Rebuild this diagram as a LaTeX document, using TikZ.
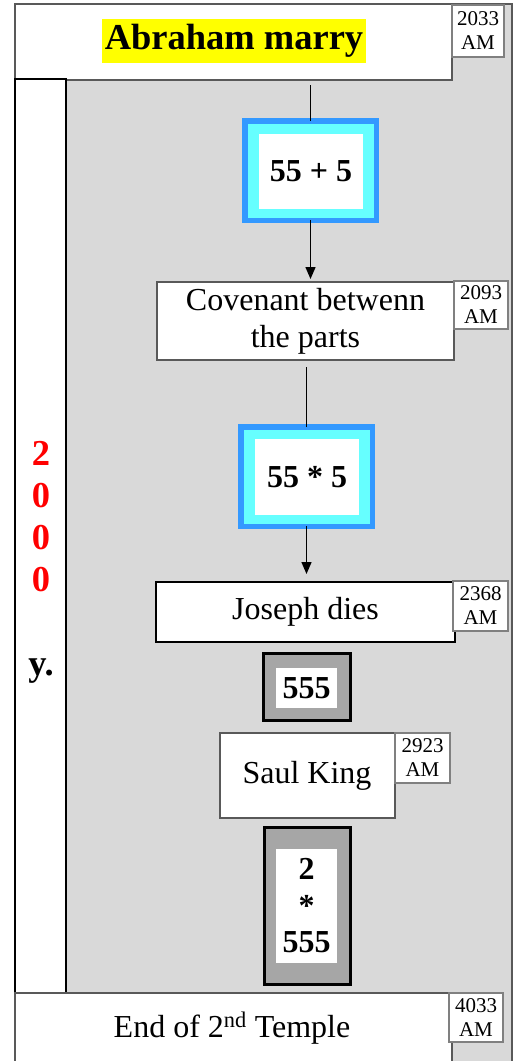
\documentclass[tikz,border=0pt]{standalone}
\usepackage{fontspec}
\setmainfont{Liberation Serif}
\usetikzlibrary{arrows.meta}
\definecolor{bggray}{HTML}{D9D9D9}
\definecolor{framegray}{HTML}{595959}
\definecolor{dategray}{HTML}{808080}
\definecolor{boxblue}{HTML}{3399FF}
\definecolor{boxcyan}{HTML}{66FFFF}
\definecolor{midgray}{HTML}{A6A6A6}
\definecolor{hiyellow}{HTML}{FFFF00}
\begin{document}
\begin{tikzpicture}[x=1pt,y=-1pt,
  every node/.style={inner sep=0pt,outer sep=0pt},
  regtext/.style={font=\fontsize{32}{37}\selectfont},
  boldtext/.style={font=\bfseries\fontsize{32}{36.5}\selectfont},
  bigbold/.style={font=\bfseries\fontsize{36.5}{42}\selectfont},
  datebox/.style={draw=dategray,line width=2pt,fill=white,align=center,font=\fontsize{21}{24}\selectfont},
  eventbox/.style={draw=framegray,line width=1.5pt,fill=white,align=center,regtext},
  eventblack/.style={draw=black,line width=1.5pt,fill=white,align=center,regtext},
  bluebox/.style={draw=boxblue,line width=5.5pt,fill=boxcyan},
  graybox/.style={draw=black,line width=3pt,fill=midgray},
  innerwhite/.style={fill=white,align=center,boldtext},
  conn/.style={draw=black,line width=1.4pt},
  arr/.style={conn,-{Triangle[width=10pt,length=12pt]}}
]
\useasboundingbox (0,0) rectangle (526,1061);
% outer frame with gray ground
\draw[fill=bggray,draw=framegray,line width=2pt] (15,4) rectangle (512,1075);
% top box
\node[draw=framegray,line width=1.5pt,fill=white,minimum width=437pt,minimum height=76pt] (abr) at (233.5,42) {};
\node[fill=hiyellow,inner xsep=2.5pt,minimum height=44pt,bigbold] (abrtxt) at (234,41) {Abraham marry};
\node[datebox,minimum width=52pt,minimum height=52pt] (d1) at (478,31) {2033\\AM};
% left column
\node[draw=black,line width=1.5pt,fill=white,minimum width=51pt,minimum height=914pt] (col) at (40.5,536) {};
\node[bigbold,text=red,anchor=base] (c1) at (41,465) {2};
\node[bigbold,text=red,anchor=base] (c2) at (41,507) {0};
\node[bigbold,text=red,anchor=base] (c3) at (41,549) {0};
\node[bigbold,text=red,anchor=base] (c4) at (41,591) {0};
\node[bigbold,anchor=base] (cy) at (41,675) {y.};
% 55 + 5
\node[bluebox,minimum width=131.5pt,minimum height=99.5pt] (b1) at (310.5,170.5) {};
\node[innerwhite,minimum width=104pt,minimum height=75pt] (b1in) at (311,171.5) {55 + 5};
% covenant
\node[eventbox,minimum width=297pt,minimum height=78pt] (cov) at (305.5,321) {Covenant betwenn\\the parts};
\node[datebox,minimum width=54pt,minimum height=48pt] (d2) at (481,305) {2093\\AM};
% 55 * 5
\node[bluebox,minimum width=131.5pt,minimum height=99.5pt] (b2) at (306.5,476.5) {};
\node[innerwhite,minimum width=104pt,minimum height=76pt] (b2in) at (307,477) {55 * 5};
% Joseph
\node[eventblack,minimum width=299pt,minimum height=60pt] (jos) at (305.5,612) {Joseph dies};
\node[datebox,minimum width=55pt,minimum height=50pt] (d3) at (480.5,606) {2368\\AM};
% 555
\node[graybox,minimum width=87pt,minimum height=67pt] (g1) at (307,687) {};
\node[innerwhite,minimum width=61pt,minimum height=40pt] (g1in) at (306.5,688) {555};
% Saul
\node[eventbox,minimum width=175pt,minimum height=85pt] (saul) at (307.5,775.5) {};
\node[regtext,anchor=base] (saultxt) at (307,783) {Saul King};
\node[datebox,minimum width=55pt,minimum height=50pt] (d4) at (422.5,758) {2923\\AM};
% 2 * 555
\node[graybox,minimum width=86pt,minimum height=157pt] (g2) at (307.5,906) {};
\node[innerwhite,minimum width=61pt,minimum height=114pt] (g2in) at (306.5,906) {2\\*\\555};
% end
\node[draw=framegray,line width=1.5pt,fill=white,minimum width=437pt,minimum height=80pt] (endbox) at (233.5,1033) {};
\node[regtext,anchor=base] (endtxt) at (232,1037) {End of 2\textsuperscript{nd} Temple};
\node[datebox,minimum width=54pt,minimum height=49pt] (d5) at (476,1017.5) {4033\\AM};
% connectors
\draw[conn,shorten <=5pt] (abr.south -| b1.north) -- (b1.north);
\draw[arr,shorten >=3pt] (b1.south) -- (b1.south |- cov.north);
\draw[conn,shorten <=7pt] (cov.south -| b2.north) -- (b2.north);
\draw[arr,shorten >=8pt] (b2.south) -- (b2.south |- jos.north);
\end{tikzpicture}
\end{document}
